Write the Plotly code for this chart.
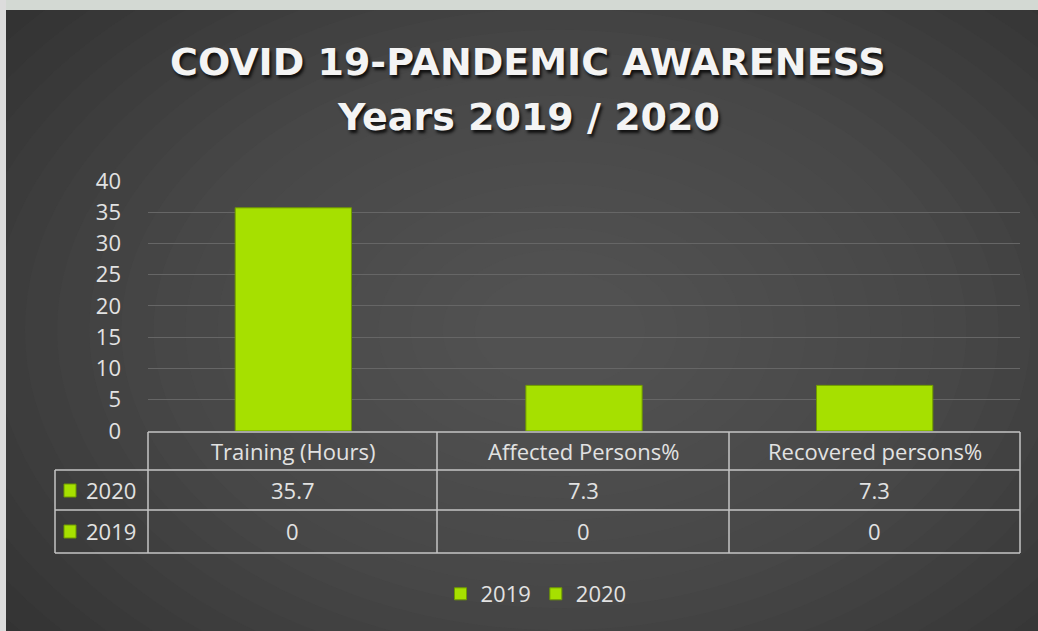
import plotly.graph_objects as go

categories = ["Training (Hours)", "Affected Persons%", "Recovered persons%"]
values_2019 = [0, 0, 0]
values_2020 = [35.7, 7.3, 7.3]
y_ticks = [0, 5, 10, 15, 20, 25, 30, 35, 40]

W, H = 1038, 631
L, R, T, B = 148, 1020, 180, 431  # plot area in pixels

def px(x):
    return (x - L) / (R - L)

def py(y):
    return (B - y) / (B - T)

LIME = "#a6e000"
TXT = "#e2e2e2"
LINE = "#c4c4c4"
FONT = "Open Sans"
TITLE_FONT = "DejaVu Sans"
FS = 22

x_idx = list(range(len(categories)))

fig = go.Figure()
fig.add_trace(go.Bar(x=x_idx, y=values_2019, name="2019",
                     marker=dict(color=LIME, line=dict(color="#6f9a00", width=1)), width=0.4))
fig.add_trace(go.Bar(x=x_idx, y=values_2020, name="2020",
                     marker=dict(color=LIME, line=dict(color="#6f9a00", width=1)), width=0.4))

shapes = []
# background gradient (concentric ellipses)
N = 22
for i in range(N):
    f = 1 - i * (0.93 / N)
    cxp, cyp = 560, 330
    rx, ry = 760 * f, 520 * f
    shapes.append(dict(type="circle", xref="paper", yref="paper", layer="below",
                       x0=px(cxp - rx), x1=px(cxp + rx), y0=py(cyp + ry), y1=py(cyp - ry),
                       fillcolor="#6e6e6e", opacity=0.045, line=dict(width=0)))
# light strips at top/left (photo edges)
shapes.append(dict(type="rect", xref="paper", yref="paper", layer="above",
                   x0=px(0), x1=px(W), y0=py(10), y1=py(-5), fillcolor="#d3d9d3", line=dict(width=0)))
shapes.append(dict(type="rect", xref="paper", yref="paper", layer="above",
                   x0=px(-5), x1=px(6), y0=py(H + 5), y1=py(0), fillcolor="#dcdcdc", line=dict(width=0)))

# data table lines
col_edges = [148, 437, 729, 1020]
hl = [(148, 432), (55, 470), (55, 510), (55, 553)]
for x0, yy in hl:
    shapes.append(dict(type="line", xref="paper", yref="paper", x0=px(x0), x1=px(1020), y0=py(yy), y1=py(yy),
                       line=dict(color=LINE, width=1.5)))
shapes.append(dict(type="line", xref="paper", yref="paper", x0=px(55), x1=px(55), y0=py(470), y1=py(553),
                   line=dict(color=LINE, width=1.5)))
for xe in col_edges:
    shapes.append(dict(type="line", xref="paper", yref="paper", x0=px(xe), x1=px(xe), y0=py(432), y1=py(553),
                       line=dict(color=LINE, width=1.5)))

annotations = []
def ann(text, x, y, size=FS, xanchor="center", **kw):
    annotations.append(dict(text=text, x=px(x), y=py(y), xref="paper", yref="paper", showarrow=False,
                            xanchor=xanchor, yanchor="middle",
                            font=dict(size=size, color=kw.get("color", TXT), family=kw.get("family", FONT),
                                      shadow=kw.get("shadow", "none"))))

row_y = {"2020": 490, "2019": 531}
for i, c in enumerate(categories):
    cx = (col_edges[i] + col_edges[i + 1]) / 2
    ann(c, cx, 451)
    ann(str(values_2020[i]), cx, row_y["2020"])
    ann(str(values_2019[i]), cx, row_y["2019"])
for name, yy in row_y.items():
    shapes.append(dict(type="rect", xref="paper", yref="paper", x0=px(64), x1=px(76), y0=py(yy + 7), y1=py(yy - 6),
                       fillcolor=LIME, line=dict(color="#6f9a00", width=1)))
    ann(name, 84, yy, xanchor="left")

# title
ann("<b>COVID 19-PANDEMIC AWARENESS</b>", 528, 62, size=38, color="#f4f4f4", family=TITLE_FONT, shadow="2px 3px 3px #111")
ann("<b>Years 2019 / 2020</b>", 528, 117, size=38, color="#f4f4f4", family=TITLE_FONT, shadow="2px 3px 3px #111")

fig.update_layout(
    width=W, height=H,
    margin=dict(l=L, r=W - R, t=T, b=H - B, pad=0),
    paper_bgcolor="#2e2e2e", plot_bgcolor="rgba(0,0,0,0)",
    barmode="overlay",
    shapes=shapes, annotations=annotations,
    font=dict(family=FONT, color=TXT, size=FS),
    legend=dict(orientation="h", x=px(536), y=py(594), xanchor="center", yanchor="middle",
                font=dict(size=FS, color=TXT, family=FONT), bgcolor="rgba(0,0,0,0)", itemwidth=30),
    showlegend=True,
)
fig.update_xaxes(range=[-0.5, 2.5], showticklabels=False, showgrid=False, zeroline=False, showline=False,
                 tickvals=x_idx, fixedrange=True)
fig.update_yaxes(range=[0, 40.15], tickvals=y_ticks, showgrid=True, gridcolor="#666666", gridwidth=1,
                 zeroline=False, showline=False, ticklabelstandoff=26,
                 tickfont=dict(size=FS, color=TXT, family=FONT))

fig.write_html("out.html")
